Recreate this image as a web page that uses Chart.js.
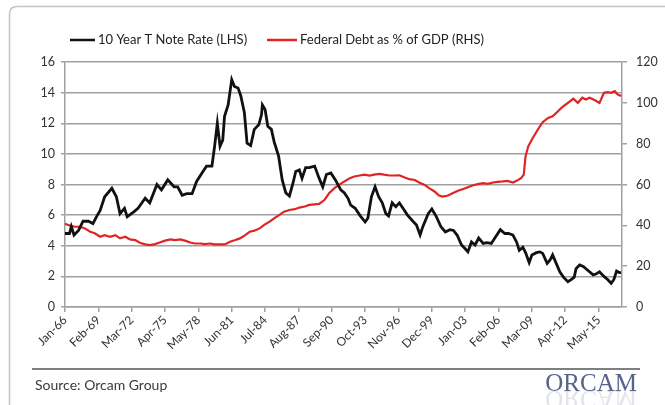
<!DOCTYPE html>
<html>
<head>
<meta charset="utf-8">
<script src="https://cdn.jsdelivr.net/npm/chart.js@4.4.1/dist/chart.umd.min.js"></script>
<style>
  html, body { margin: 0; padding: 0; background: #fff; }
  #wrap { width: 665px; height: 405px; }
</style>
</head>
<body>
<div id="wrap"><canvas id="chart" width="665" height="405"></canvas></div>
<script>
// month offsets from Jan 1966
var tickLabels = ["Jan-66", "Feb-69", "Mar-72", "Apr-75", "May-78", "Jun-81", "Jul-84", "Aug-87", "Sep-90",
  "Oct-93", "Nov-96", "Dec-99", "Jan-03", "Feb-06", "Mar-09", "Apr-12", "May-15"];

// 10 year treasury note rate, %
var rateMonths = [0, 5, 7, 10, 15, 20, 26, 31, 35, 39, 44, 52, 57, 61, 66, 69, 76, 81, 89, 94,
  102, 107, 114, 121, 125, 130, 135, 141, 146, 152, 157, 163, 166, 169, 172, 175, 177, 181, 185, 188,
  192, 195, 199, 202, 206, 210, 215, 218, 219, 222, 225, 229, 232, 237, 241, 245, 249, 253, 256, 260,
  263, 267, 271, 277, 282, 286, 290, 295, 300, 306, 310, 314, 317, 322, 327, 333, 336, 340, 344, 348,
  352, 356, 359, 363, 367, 371, 375, 380, 386, 390, 394, 397, 403, 407, 412, 417, 422, 427, 431, 435,
  440, 444, 447, 451, 455, 459, 464, 468, 473, 478, 483, 488, 492, 497, 501, 504, 508, 511, 515, 518,
  523, 527, 530, 535, 538, 541, 545, 549, 553, 558, 562, 565, 567, 571, 575, 580, 586, 589, 593, 598,
  602, 606, 609, 612, 615, 617];
var rateValues = [4.8, 4.8, 5.25, 4.7, 5.0, 5.6, 5.6, 5.45, 5.9, 6.3, 7.2, 7.75, 7.2, 6.1, 6.45, 5.9, 6.2, 6.45, 7.1, 6.8,
  8.0, 7.65, 8.3, 7.85, 7.85, 7.3, 7.4, 7.4, 8.2, 8.75, 9.2, 9.2, 10.5, 12.0, 10.5, 10.9, 12.45, 13.2, 14.85, 14.4,
  14.3, 13.8, 12.7, 10.7, 10.55, 11.6, 11.9, 12.55, 13.2, 12.9, 11.8, 11.6, 10.8, 9.85, 8.3, 7.45, 7.25, 8.1, 8.85, 8.95,
  8.4, 9.1, 9.1, 9.2, 8.4, 7.85, 8.65, 8.75, 8.3, 7.65, 7.45, 7.1, 6.65, 6.45, 6.0, 5.55, 5.8, 7.2, 7.85, 7.2,
  6.8, 6.1, 5.95, 6.8, 6.55, 6.8, 6.45, 6.0, 5.6, 5.35, 4.7, 5.25, 6.1, 6.4, 5.9, 5.25, 4.9, 5.05, 5.0, 4.7,
  4.05, 3.8, 3.6, 4.25, 4.05, 4.5, 4.15, 4.2, 4.15, 4.6, 5.05, 4.8, 4.8, 4.7, 4.25, 3.7, 3.9, 3.55, 2.9, 3.4,
  3.55, 3.6, 3.5, 2.85, 3.05, 3.4, 2.85, 2.3, 1.95, 1.65, 1.8, 1.95, 2.5, 2.75, 2.65, 2.4, 2.1, 2.15, 2.3, 2.0,
  1.8, 1.55, 1.8, 2.35, 2.25, 2.25];

// federal debt as % of GDP
var debtMonths = [0, 6, 11, 17, 22, 28, 33, 39, 44, 50, 56, 61, 67, 72, 78, 83, 89, 94, 100, 105,
  111, 117, 122, 128, 133, 139, 144, 150, 155, 161, 166, 172, 178, 183, 189, 194, 200, 205, 210, 216,
  221, 227, 232, 238, 243, 249, 255, 260, 266, 271, 277, 282, 288, 293, 299, 304, 310, 316, 321, 327,
  332, 338, 343, 349, 354, 360, 366, 371, 377, 382, 388, 393, 399, 404, 410, 415, 419, 425, 430, 436,
  441, 447, 452, 458, 464, 469, 475, 480, 486, 491, 497, 501, 506, 509, 511, 514, 519, 525, 530, 536,
  541, 547, 552, 558, 564, 569, 574, 578, 582, 588, 593, 598, 602, 606, 610, 613, 617];
var debtValues = [40.7, 39.8, 39.3, 39.3, 38.5, 36.9, 36.1, 34.4, 35.2, 34.4, 35.2, 33.6, 34.4, 33.1, 32.8, 31.5, 30.7, 30.3, 30.8, 31.6,
  32.5, 33.1, 32.8, 33.1, 32.5, 31.6, 31.1, 31.1, 30.8, 31.1, 30.7, 30.7, 30.8, 32.0, 32.8, 33.6, 35.2, 36.9, 37.4, 38.5,
  40.2, 41.8, 43.4, 45.1, 46.7, 47.5, 47.9, 48.7, 49.2, 50.0, 50.3, 50.5, 52.5, 55.7, 58.2, 59.8, 61.5, 63.1, 63.9, 64.4,
  64.8, 64.4, 64.8, 65.2, 64.8, 64.4, 64.4, 64.5, 63.4, 62.6, 62.2, 61.0, 59.8, 58.2, 56.6, 54.6, 54.1, 54.6, 55.7, 56.9,
  57.7, 58.7, 59.5, 60.2, 60.7, 60.3, 61.0, 61.3, 61.5, 61.8, 61.0, 61.8, 63.1, 64.8, 73.8, 78.7, 82.8, 87.2, 90.5, 92.6,
  93.4, 95.9, 98.0, 100.0, 102.0, 100.0, 102.5, 101.6, 102.5, 101.3, 100.0, 104.9, 105.2, 104.9, 105.7, 104.1, 103.3];

var FONT = "Lato, 'Open Sans', sans-serif";
var gridGray = "#a0a0a0";
var textGray = "#333333";

function points(xs, ys) {
  return xs.map(function (x, i) { return { x: x, y: ys[i] }; });
}

var series = [
  { label: "10 Year T Note Rate (LHS)", color: "#111111", width: 2.8 },
  { label: "Federal Debt as % of GDP (RHS)", color: "#e02424", width: 2.2 }
];

// frame, legend and footer drawn around the plot
var decor = {
  id: "decor",
  beforeDraw: function (chart) {
    var ctx = chart.ctx;
    ctx.save();
    ctx.fillStyle = "#fff";
    ctx.fillRect(0, 0, chart.width, chart.height);
    ctx.strokeStyle = "#c4c4c4";
    ctx.lineWidth = 1.5;
    ctx.beginPath();
    ctx.moveTo(9.5, 420);
    ctx.lineTo(9.5, 14);
    ctx.quadraticCurveTo(9.5, 6.5, 17, 6.5);
    ctx.lineTo(680, 6.5);
    ctx.stroke();
    ctx.restore();
  },
  afterDraw: function (chart) {
    var ctx = chart.ctx;
    ctx.save();
    // legend
    var legendX = [[70, 95], [267, 297]];
    ctx.font = "13px " + FONT;
    ctx.textBaseline = "middle";
    series.forEach(function (s, i) {
      ctx.strokeStyle = s.color;
      ctx.lineWidth = 2.5;
      ctx.beginPath();
      ctx.moveTo(legendX[i][0], 40);
      ctx.lineTo(legendX[i][1], 40);
      ctx.stroke();
      ctx.fillStyle = "#222";
      ctx.fillText(s.label, legendX[i][1] + 3, 40);
    });
    // footer rule and source
    ctx.strokeStyle = "#555";
    ctx.lineWidth = 1.5;
    ctx.beginPath();
    ctx.moveTo(32, 369);
    ctx.lineTo(640, 369);
    ctx.stroke();
    ctx.fillStyle = "#3a3a3a";
    ctx.font = "14px " + FONT;
    ctx.textBaseline = "alphabetic";
    ctx.fillText("Source: Orcam Group", 35, 390);
    // logo with faint reflection
    ctx.font = "25px 'Liberation Serif', 'DejaVu Serif', serif";
    ctx.textAlign = "right";
    ctx.fillStyle = "#56648a";
    ctx.fillText("ORCAM", 637, 391);
    ctx.translate(0, 782);
    ctx.scale(1, -1);
    ctx.globalAlpha = 0.18;
    ctx.fillText("ORCAM", 637, 391);
    ctx.restore();
  }
};

var ctx = document.getElementById("chart").getContext("2d");
var chart = new Chart(ctx, {
  type: "line",
  data: {
    datasets: [
      {
        label: series[0].label,
        data: points(rateMonths, rateValues),
        borderColor: series[0].color,
        borderWidth: series[0].width,
        pointRadius: 0,
        tension: 0,
        yAxisID: "y"
      },
      {
        label: series[1].label,
        data: points(debtMonths, debtValues),
        borderColor: series[1].color,
        borderWidth: series[1].width,
        pointRadius: 0,
        tension: 0,
        yAxisID: "y1"
      }
    ]
  },
  options: {
    responsive: false,
    animation: false,
    layout: { padding: { top: 62, left: 0, right: 0, bottom: 0 } },
    plugins: {
      legend: { display: false },
      tooltip: { enabled: false }
    },
    scales: {
      x: {
        type: "linear",
        min: 0,
        max: 618,
        afterBuildTicks: function (axis) {
          axis.ticks = tickLabels.map(function (l, i) { return { value: i * 37 }; });
        },
        afterFit: function (axis) { axis.height = 98; },
        grid: { drawOnChartArea: false, drawTicks: true, tickLength: 5, color: gridGray, lineWidth: 1.5 },
        border: { color: gridGray, width: 1.5 },
        ticks: {
          autoSkip: false,
          minRotation: 45,
          maxRotation: 45,
          padding: 1,
          color: textGray,
          font: { family: FONT, size: 12 },
          callback: function (v, i) { return tickLabels[i]; }
        }
      },
      y: {
        position: "left",
        min: 0,
        max: 16,
        afterFit: function (axis) { axis.width = 65; },
        grid: { color: gridGray, lineWidth: 1.5, tickLength: 4 },
        border: { color: gridGray, width: 1.5 },
        ticks: {
          stepSize: 2,
          padding: 6,
          color: textGray,
          font: { family: FONT, size: 12.5 }
        }
      },
      y1: {
        position: "right",
        min: 0,
        max: 120,
        afterFit: function (axis) { axis.width = 43; },
        grid: { drawOnChartArea: false, color: gridGray, lineWidth: 1.5, tickLength: 5 },
        border: { color: gridGray, width: 1.5 },
        ticks: {
          stepSize: 20,
          padding: 9,
          color: textGray,
          font: { family: FONT, size: 12.5 }
        }
      }
    }
  },
  plugins: [decor]
});
</script>
</body>
</html>
